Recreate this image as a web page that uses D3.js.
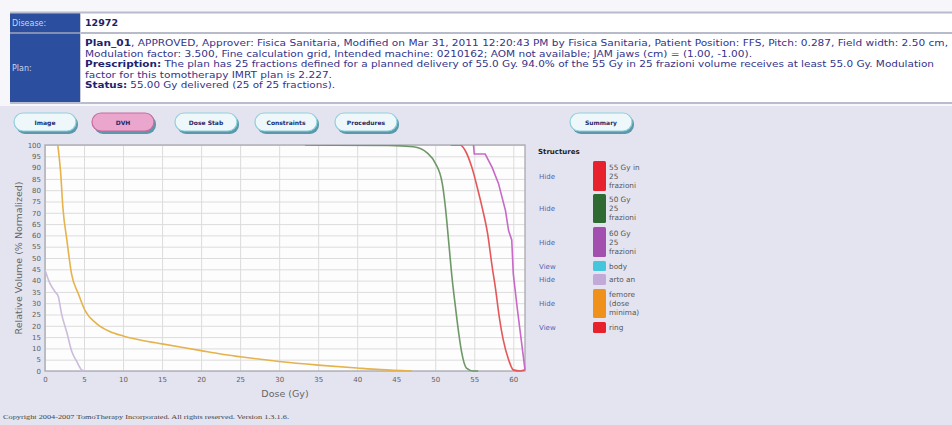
<!DOCTYPE html>
<html>
<head>
<meta charset="utf-8">
<script src="https://cdn.jsdelivr.net/npm/d3@7"></script>
<style>
  html, body { margin: 0; padding: 0; background: #e4e4f0; }
  svg { display: block; font-family: "DejaVu Sans", Verdana, sans-serif; }
</style>
</head>
<body>
<div id="chart"></div>
<script>
// DVH curves: [dose Gy, relative volume %]
var gy55 = [[52,100],[53.2,100],[53.8,97.8],[54.7,90],[55.4,81],[56,72.5],[56.7,61],[57.3,46],[57.7,37],[58.2,24],[58.7,14],[59.4,5],[60,0.5],[60.9,0],[61.5,0.5]];
var gy50 = [[33.3,100],[44,99.8],[47.2,99.2],[49,96.4],[50,92],[50.9,83],[51.3,72.5],[51.7,58],[52.1,43],[52.6,28],[53,17],[53.4,8],[54,1.3],[54.9,0],[55.5,0]];
var gy60 = [[54.9,100],[55,96],[56.4,96],[57.3,90],[58.1,83],[59,71],[59.4,62],[59.8,58],[60,43],[60.5,28],[60.9,17],[61.3,6],[61.5,0.5]];
var artoAn = [[0,44.7],[0.6,39],[1.3,35],[1.7,33],[2.1,25.6],[2.8,17],[3.4,9],[4.1,4],[4.7,0.5],[5.1,0]];
var femore = [[1.6,101],[2,88],[2.3,72],[2.8,58],[3.4,43],[4.3,34],[5.1,27],[6.6,21],[8.3,17.5],[10,15.5],[12.5,13.5],[15,12],[17.5,10.5],[20,9],[22.5,7.5],[25,6.3],[30,4.2],[35,2.6],[40,1.3],[43,0.6],[47,0]];

var xTicks = d3.range(0, 61, 5);
var yTicks = d3.range(0, 101, 5);

var structNames = ["55 Gy in 25 frazioni", "50 Gy 25 frazioni", "60 Gy 25 frazioni", "body", "arto an", "femore (dose minima)", "ring"];
var structLines = [["55 Gy in","25","frazioni"],["50 Gy","25","frazioni"],["60 Gy","25","frazioni"],["body"],["arto an"],["femore","(dose","minima)"],["ring"]];
var structColors = ["#e8222c", "#2f6a33", "#a24fb0", "#45c6dc", "#c2aad8", "#f0911c", "#e8222c"];
var structAction = ["Hide", "Hide", "Hide", "View", "Hide", "Hide", "View"];

var buttons = ["Image", "DVH", "Dose Stab", "Constraints", "Procedures", "Summary"];
var buttonX = [14, 92, 175, 255, 335, 570];

var W = 952, H = 425;
var svg = d3.select("#chart").append("svg").attr("width", W).attr("height", H);

// page backgrounds
svg.append("rect").attr("x",0).attr("y",0).attr("width",W).attr("height",H).attr("fill","#e4e4f0");
svg.append("rect").attr("x",0).attr("y",0).attr("width",W).attr("height",106).attr("fill","#f7f7fb");

// ---- header table ----
var head = svg.append("g");
head.append("rect").attr("x",80).attr("y",13).attr("width",W-80).attr("height",90).attr("fill","#ffffff");
head.append("rect").attr("x",10).attr("y",13).attr("width",70).attr("height",90).attr("fill","#2b4f9e");
head.append("line").attr("x1",10).attr("x2",W).attr("y1",12.5).attr("y2",12.5).attr("stroke","#b8bccc").attr("stroke-width",2);
head.append("line").attr("x1",10).attr("x2",W).attr("y1",33).attr("y2",33).attr("stroke","#a0a4b8").attr("stroke-width",1.5);
head.append("line").attr("x1",10).attr("x2",W).attr("y1",103).attr("y2",103).attr("stroke","#b8bccc").attr("stroke-width",2);
head.append("line").attr("x1",80.5).attr("x2",80.5).attr("y1",13).attr("y2",103).attr("stroke","#c8ccd8");

head.append("text").attr("x",12).attr("y",26).text("Disease:")
    .attr("font-size",8).attr("fill","#c9d4ee");
head.append("text").attr("x",12).attr("y",71).text("Plan:")
    .attr("font-size",8).attr("fill","#c9d4ee");
head.append("text").attr("x",85).attr("y",26).text("12972")
    .attr("font-size",9.5).attr("font-weight","bold").attr("fill","#1e1e6a");

var planLines = [
  {b:"Plan_01", t:", APPROVED, Approver: Fisica Sanitaria, Modified on Mar 31, 2011 12:20:43 PM by Fisica Sanitaria, Patient Position: FFS, Pitch: 0.287, Field width: 2.50 cm,", w:863},
  {b:"", t:"Modulation factor: 3.500, Fine calculation grid, Intended machine: 0210162; AOM not available; JAM jaws (cm) = (1.00, -1.00).", w:667},
  {b:"Prescription:", t:" The plan has 25 fractions defined for a planned delivery of 55.0 Gy. 94.0% of the 55 Gy in 25 frazioni volume receives at least 55.0 Gy. Modulation", w:849},
  {b:"", t:"factor for this tomotherapy IMRT plan is 2.227.", w:247},
  {b:"Status:", t:" 55.00 Gy delivered (25 of 25 fractions).", w:250}
];
planLines.forEach(function(l, i) {
  var t = head.append("text").attr("x",85).attr("y",46 + i*10.6)
      .attr("font-size",8.1).attr("fill","#33338a")
      .attr("textLength", l.w).attr("lengthAdjust","spacingAndGlyphs");
  if (l.b) t.append("tspan").attr("font-weight","bold").attr("fill","#22226e").text(l.b);
  t.append("tspan").text(l.t);
});

// ---- buttons ----
var btn = svg.append("g").selectAll("g").data(buttons).join("g")
    .attr("transform", function(d, i) { return "translate(" + buttonX[i] + ",113)"; });
btn.append("rect").attr("x",2).attr("y",2).attr("width",62).attr("height",19).attr("rx",9)
    .attr("fill","#2f7f92").attr("opacity",0.75);
btn.append("rect").attr("width",62).attr("height",18).attr("rx",9)
    .attr("fill", function(d) { return d === "DVH" ? "#eaa6cc" : "#eef8fa"; })
    .attr("stroke", function(d) { return d === "DVH" ? "#c86aa0" : "#8fd0dc"; })
    .attr("stroke-width",1.2);
btn.append("text").attr("x",31).attr("y",12).attr("text-anchor","middle")
    .attr("font-size",6).attr("font-weight","bold").attr("fill","#1e2a6a")
    .text(function(d) { return d; });

// ---- DVH plot ----
var x = d3.scaleLinear().domain([0, 61.5]).range([45, 525]);
var y = d3.scaleLinear().domain([0, 100]).range([371, 145]);

var plot = svg.append("g");
plot.append("rect").attr("x",45).attr("y",145).attr("width",480).attr("height",226).attr("fill","#fdfdfd");

plot.append("g").selectAll("line").data(yTicks).join("line")
    .attr("x1",45).attr("x2",525)
    .attr("y1", function(d) { return y(d) + 0.5; }).attr("y2", function(d) { return y(d) + 0.5; })
    .attr("stroke","#dcdcdc").attr("stroke-width",1);
plot.append("g").selectAll("line").data(xTicks).join("line")
    .attr("y1",145).attr("y2",371)
    .attr("x1", function(d) { return x(d) + 0.5; }).attr("x2", function(d) { return x(d) + 0.5; })
    .attr("stroke","#dcdcdc").attr("stroke-width",1);
plot.append("rect").attr("x",45).attr("y",145).attr("width",480).attr("height",226)
    .attr("fill","none").attr("stroke","#a8a8b0").attr("stroke-width",1.3);

// axes (labels only, the box is the frame)
var xAxis = plot.append("g").attr("transform","translate(0,371)")
    .call(d3.axisBottom(x).tickValues(xTicks).tickSize(0).tickPadding(6));
var yAxis = plot.append("g").attr("transform","translate(45,0)")
    .call(d3.axisLeft(y).tickValues(yTicks).tickSize(0).tickPadding(4));
[xAxis, yAxis].forEach(function(a) {
  a.select(".domain").remove();
  a.selectAll("text").attr("font-size",7).attr("fill","#606060").attr("font-family","DejaVu Sans, sans-serif");
});

svg.append("text").attr("transform","translate(22,258) rotate(-90)")
    .attr("text-anchor","middle").attr("font-size",9.5).attr("fill","#666")
    .text("Relative Volume (% Normalized)");
svg.append("text").attr("x",285).attr("y",397).attr("text-anchor","middle")
    .attr("font-size",9.5).attr("fill","#666").text("Dose (Gy)");

svg.append("clipPath").attr("id","clip").append("rect")
    .attr("x",45).attr("y",145).attr("width",481).attr("height",227);

var line = d3.line().x(function(d) { return x(d[0]); }).y(function(d) { return y(d[1]); });
var smooth = d3.line().x(function(d) { return x(d[0]); }).y(function(d) { return y(d[1]); }).curve(d3.curveMonotoneX);

var curves = plot.append("g").attr("clip-path","url(#clip)").attr("fill","none").attr("stroke-width",1.6);
curves.append("path").attr("d", smooth(artoAn)).attr("stroke","#cbbcdc");
curves.append("path").attr("d", smooth(femore)).attr("stroke","#e6b24a");
curves.append("path").attr("d", smooth(gy50)).attr("stroke","#6f9868");
curves.append("path").attr("d", smooth(gy55)).attr("stroke","#e4585a");
curves.append("path").attr("d", line(gy60)).attr("stroke","#c868c8");

// ---- structures legend ----
var leg = svg.append("g");
leg.append("text").attr("x",538).attr("y",154).attr("font-size",7).attr("font-weight","bold")
    .attr("fill","#222").text("Structures");

var swY = [161, 194, 227, 261, 274, 289, 322];
var swH = [30, 29, 30, 10, 11, 29, 11];
var item = leg.selectAll("g.item").data(structNames).join("g").attr("class","item");
item.append("rect").attr("x",593).attr("width",13)
    .attr("y", function(d, i) { return swY[i]; })
    .attr("height", function(d, i) { return swH[i]; })
    .attr("rx",1.5)
    .attr("fill", function(d, i) { return structColors[i]; });
item.append("text").attr("x",539)
    .attr("y", function(d, i) { return swY[i] + swH[i] / 2 + 2.5; })
    .attr("font-size",7).attr("fill","#4a64b8")
    .text(function(d, i) { return structAction[i]; });
item.each(function(d, i) {
  var g = d3.select(this);
  var n = structLines[i].length;
  structLines[i].forEach(function(s, k) {
    g.append("text").attr("x",609)
      .attr("y", swY[i] + swH[i] / 2 + 2.8 + (k - (n - 1) / 2) * 9)
      .attr("font-size",7.3).attr("fill","#555").text(s);
  });
});

// footer
svg.append("text").attr("x",3).attr("y",419).attr("font-size",7)
    .attr("font-family","Liberation Serif, serif").attr("fill","#444")
    .attr("textLength",286).attr("lengthAdjust","spacingAndGlyphs")
    .text("Copyright 2004-2007 TomoTherapy Incorporated. All rights reserved. Version 1.3.1.6.");
</script>
</body>
</html>
